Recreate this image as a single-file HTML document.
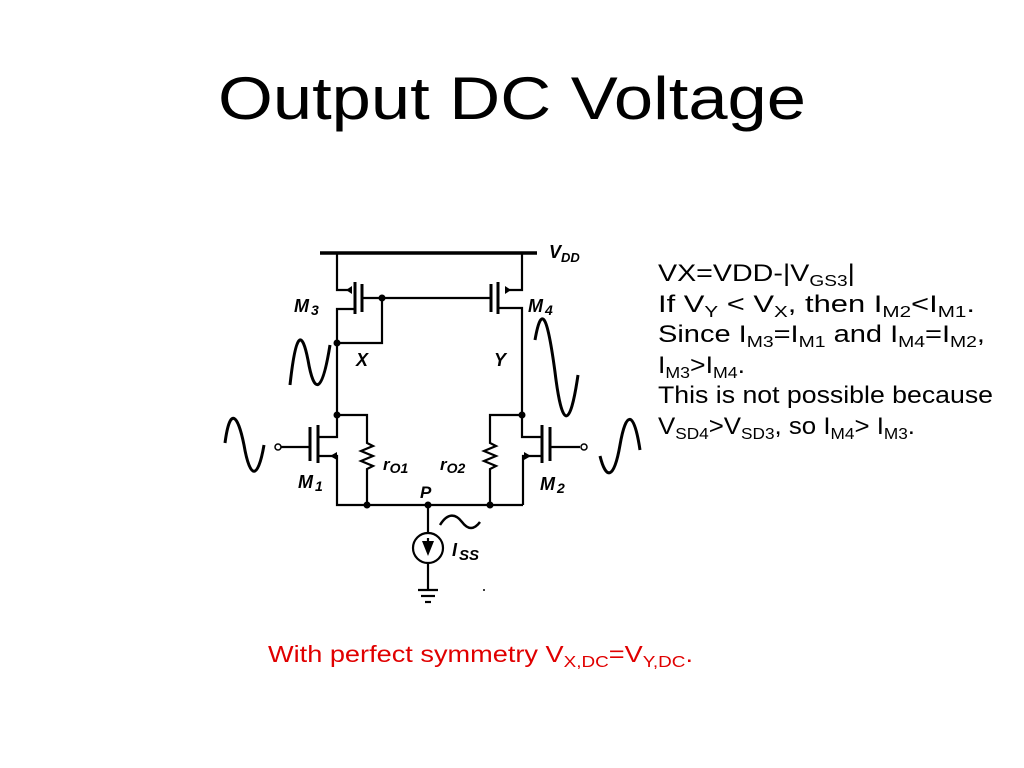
<!DOCTYPE html>
<html><head><meta charset="utf-8"><style>
html,body{margin:0;padding:0;background:#fff;}
svg{display:block;}
</style></head><body>
<svg width="1024" height="768" viewBox="0 0 1024 768" xmlns="http://www.w3.org/2000/svg" font-family="Liberation Sans, sans-serif">
<rect width="1024" height="768" fill="#fff"/>
<text x="218" y="119" font-size="60" textLength="588" lengthAdjust="spacingAndGlyphs" fill="#000">Output DC Voltage</text>

<g stroke="#000" stroke-width="2.2" fill="none">
<line x1="320" y1="253" x2="537" y2="253" stroke-width="3.5"/>
<polyline points="337,253 337,290 352,290"/>
<line x1="355" y1="282" x2="355" y2="314" stroke-width="3"/>
<line x1="362" y1="284" x2="362" y2="312" stroke-width="3"/>
<polyline points="355,309 337,309 337,415"/>
<line x1="362" y1="298" x2="492" y2="298"/>
<polyline points="382,298 382,343 337,343"/>
<polyline points="522,253 522,290 505,290"/>
<line x1="498" y1="282" x2="498" y2="314" stroke-width="3"/>
<line x1="491" y1="284" x2="491" y2="312" stroke-width="3"/>
<polyline points="498,308 522,308 522,415"/>
<polyline points="337,415 367,415 367,440"/>
<polyline points="337,415 337,437 318,437"/>
<line x1="318" y1="425" x2="318" y2="463" stroke-width="3"/>
<line x1="310" y1="427" x2="310" y2="461" stroke-width="3"/>
<line x1="281" y1="447" x2="310" y2="447"/>
<polyline points="318,456 337,456 337,505 523,505"/>
<polyline points="367,440 367,443 373,446 361,451 373,456 361,461 373,466 367,469 367,505"/>
<polyline points="522,415 490,415 490,440"/>
<polyline points="522,415 522,437 542,437"/>
<line x1="542" y1="425" x2="542" y2="463" stroke-width="3"/>
<line x1="550" y1="427" x2="550" y2="461" stroke-width="3"/>
<line x1="550" y1="447" x2="580" y2="447"/>
<polyline points="542,456 523,456 523,505"/>
<polyline points="490,440 490,443 496,446 484,451 496,456 484,461 496,466 490,469 490,505"/>
<line x1="428" y1="505" x2="428" y2="533"/>
<circle cx="428" cy="548" r="15"/>
<line x1="428" y1="563" x2="428" y2="590"/>
<line x1="418" y1="590" x2="438" y2="590"/>
<line x1="421" y1="596" x2="435" y2="596"/>
<line x1="425" y1="602" x2="431" y2="602"/>
<line x1="428" y1="538" x2="428" y2="548"/>
<circle cx="278" cy="447" r="3" stroke-width="1.5"/>
<circle cx="584" cy="447" r="3" stroke-width="1.5"/>
<path d="M290,385 C296,330 302,330 308,360 C314,395 322,395 330,345" stroke-width="3"/>
<path d="M535,340 C542,300 548,320 555,372 C562,430 570,430 578,375" stroke-width="3"/>
<path d="M225,443 C230,405 238,415 244,445 C250,480 258,480 264,445" stroke-width="3"/>
<path d="M600,456 C606,480 614,480 620,445 C626,410 634,410 640,450" stroke-width="3"/>
<path d="M440,525 C448,512 456,514 462,522 C468,530 474,530 480,522" stroke-width="2.5"/>
</g>
<g fill="#000">
<polygon points="352,286 352,294 346,290"/>
<polygon points="505,286 505,294 511,290"/>
<polygon points="337,452 337,460 330,456"/>
<polygon points="524,452 524,460 531,456"/>
<polygon points="422,541 434,541 428,556"/>
<circle cx="382" cy="298" r="3.5"/><circle cx="337" cy="343" r="3.5"/>
<circle cx="337" cy="415" r="3.5"/><circle cx="522" cy="415" r="3.5"/>
<circle cx="367" cy="505" r="3.5"/><circle cx="428" cy="505" r="3.5"/><circle cx="490" cy="505" r="3.5"/>
</g>
<g font-weight="bold" font-style="italic" fill="#000">
<text x="549" y="258" font-size="18">V<tspan font-size="13" dy="4">DD</tspan></text>
<text x="294" y="312" font-size="18">M<tspan font-size="14" dx="2" dy="3">3</tspan></text>
<text x="528" y="312" font-size="18">M<tspan font-size="14" dx="2" dy="3">4</tspan></text>
<text x="298" y="488" font-size="18">M<tspan font-size="14" dx="2" dy="3">1</tspan></text>
<text x="540" y="490" font-size="18">M<tspan font-size="14" dx="2" dy="3">2</tspan></text>
<text x="356" y="366" font-size="18">X</text>
<text x="494" y="366" font-size="18">Y</text>
<text x="420" y="498" font-size="17">P</text>
<text x="383" y="470" font-size="17">r<tspan font-size="14" dy="3">O1</tspan></text>
<text x="440" y="470" font-size="17">r<tspan font-size="14" dy="3">O2</tspan></text>
<text x="452" y="556" font-size="18">I<tspan font-size="15" dx="2" dy="4">SS</tspan></text>
</g>

<g font-size="24" fill="#000">
<text x="658" y="281" textLength="197" lengthAdjust="spacingAndGlyphs">VX=VDD-|V<tspan font-size="16" dy="5">GS3</tspan><tspan dy="-5">|</tspan></text>
<text x="658" y="312" textLength="317" lengthAdjust="spacingAndGlyphs">If V<tspan font-size="16" dy="5">Y</tspan><tspan dy="-5"> &lt; V</tspan><tspan font-size="16" dy="5">X</tspan><tspan dy="-5">,  then I</tspan><tspan font-size="16" dy="5">M2</tspan><tspan dy="-5">&lt;I</tspan><tspan font-size="16" dy="5">M1</tspan><tspan dy="-5">.</tspan></text>
<text x="658" y="342" textLength="327" lengthAdjust="spacingAndGlyphs">Since I<tspan font-size="16" dy="5">M3</tspan><tspan dy="-5">=I</tspan><tspan font-size="16" dy="5">M1</tspan><tspan dy="-5"> and I</tspan><tspan font-size="16" dy="5">M4</tspan><tspan dy="-5">=I</tspan><tspan font-size="16" dy="5">M2</tspan><tspan dy="-5">,</tspan></text>
<text x="658" y="373" textLength="87" lengthAdjust="spacingAndGlyphs">I<tspan font-size="16" dy="5">M3</tspan><tspan dy="-5">&gt;I</tspan><tspan font-size="16" dy="5">M4</tspan><tspan dy="-5">.</tspan></text>
<text x="658" y="403" textLength="335" lengthAdjust="spacingAndGlyphs">This is not possible because</text>
<text x="658" y="434" textLength="257" lengthAdjust="spacingAndGlyphs">V<tspan font-size="16" dy="5">SD4</tspan><tspan dy="-5">&gt;V</tspan><tspan font-size="16" dy="5">SD3</tspan><tspan dy="-5">, so I</tspan><tspan font-size="16" dy="5">M4</tspan><tspan dy="-5">&gt; I</tspan><tspan font-size="16" dy="5">M3</tspan><tspan dy="-5">.</tspan></text>
</g>
<text x="268" y="662" font-size="23" fill="#e00000" textLength="425" lengthAdjust="spacingAndGlyphs">With perfect symmetry V<tspan font-size="16" dy="5">X,DC</tspan><tspan dy="-5">=V</tspan><tspan font-size="16" dy="5">Y,DC</tspan><tspan dy="-5">.</tspan></text>
<circle cx="484" cy="590" r="1" fill="#000"/>
</svg>
</body></html>
